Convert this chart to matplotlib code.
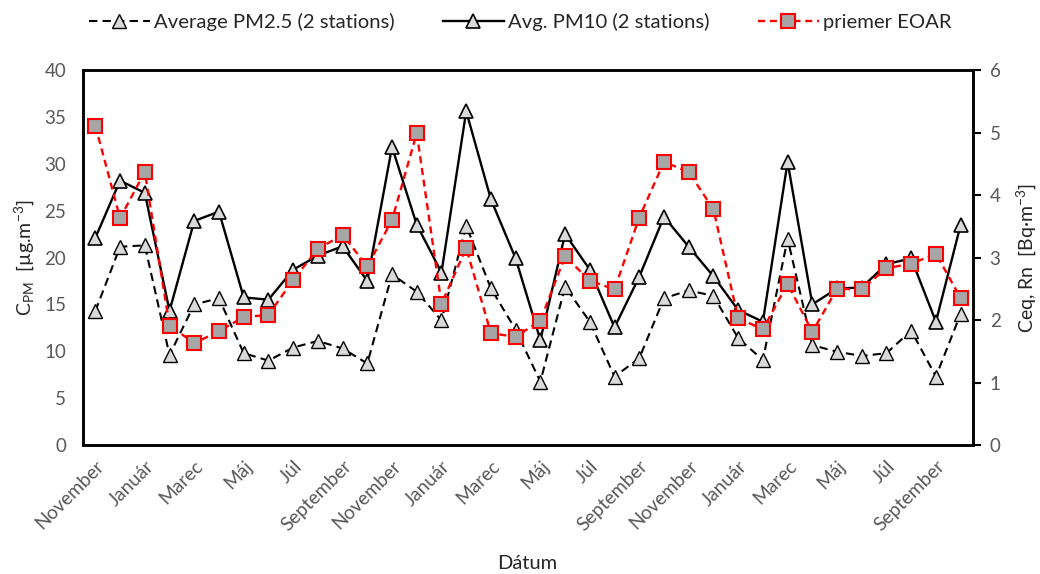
import matplotlib
matplotlib.use("Agg")
import matplotlib.pyplot as plt
from matplotlib.ticker import MultipleLocator

plt.rcParams['font.family'] = ['Lato', 'DejaVu Sans']
plt.rcParams['mathtext.fontset'] = 'custom'
plt.rcParams['mathtext.rm'] = 'Lato'
plt.rcParams['mathtext.it'] = 'Lato:italic'
plt.rcParams['mathtext.bf'] = 'Lato:bold'

# Monthly series, November through October over three seasons
months = ["November", "December", "Január", "Február", "Marec", "Apríl",
          "Máj", "Jún", "Júl", "August", "September", "Október"] * 3

pm25 = [14.3, 21.15, 21.3, 9.6, 15.0, 15.65, 9.8, 9.0, 10.4, 11.1, 10.3, 8.7,
        18.2, 16.35, 13.3, 23.4, 16.7, 12.3, 6.75, 16.9, 13.15, 7.3, 9.25, 15.65,
        16.5, 15.9, 11.4, 9.07, 22.0, 10.65, 9.95, 9.5, 9.8, 12.2, 7.3, 14.0]

pm10 = [22.1, 28.2, 26.9, 14.3, 23.9, 24.9, 15.75, 15.5, 18.7, 20.2, 21.2, 17.5,
        31.8, 23.5, 18.4, 35.6, 26.2, 19.9, 11.2, 22.5, 18.7, 12.55, 17.95, 24.35,
        21.15, 18.0, 14.4, 13.15, 30.2, 15.0, 16.7, 16.8, 19.3, 19.9, 13.15, 23.5]

eoar = [5.11, 3.63, 4.37, 1.91, 1.63, 1.82, 2.05, 2.08, 2.64, 3.14, 3.36, 2.86,
        3.60, 4.99, 2.26, 3.15, 1.79, 1.73, 1.99, 3.02, 2.63, 2.49, 3.64, 4.53,
        4.37, 3.77, 2.03, 1.85, 2.58, 1.81, 2.50, 2.49, 2.83, 2.90, 3.06, 2.35]

label_color = "#595959"
x = list(range(len(months)))

fig = plt.figure(figsize=(10.4, 5.74), dpi=100)
ax = fig.add_axes([0.0798, 0.2247, 0.8558, 0.6533])
ax2 = ax.twinx()

l1, = ax.plot(x, pm25, color="black", lw=1.5, ls=(0, (4, 2.5)), marker="^",
              ms=10.5, mfc="#D9D9D9", mec="black", mew=1.0,
              label="Average PM2.5 (2 stations)")
l2, = ax.plot(x, pm10, color="black", lw=1.7, ls="-", marker="^",
              ms=10.5, mfc="#D9D9D9", mec="black", mew=1.2,
              label="Avg. PM10 (2 stations)")
l3, = ax2.plot(x, eoar, color="#FF0000", lw=1.7, ls=(0, (3, 2)), marker="s",
               ms=9.5, mfc="#A6A6A6", mec="#FF0000", mew=1.5,
               label="priemer EOAR")

ax.set_xlim(-0.5, len(months) - 0.5)
ax.set_ylim(0, 40)
ax2.set_ylim(0, 6)
ax.yaxis.set_major_locator(MultipleLocator(5))
ax2.yaxis.set_major_locator(MultipleLocator(1))

ax.set_xticks(x[::2])
ax.set_xticklabels(months[::2], rotation=45, ha="right", va="top",
                   rotation_mode="anchor")
ax.tick_params(axis="x", length=0, pad=9, labelsize=13.8, labelcolor=label_color)
ax.tick_params(axis="y", length=0, pad=12, labelsize=13.5, labelcolor=label_color)
ax2.tick_params(axis="y", direction="out", length=6, width=1.5, color="black",
                pad=6, labelsize=13.5, labelcolor=label_color)

for a in (ax, ax2):
    for s in a.spines.values():
        s.set_linewidth(1.8)
        s.set_color("black")

ax.set_ylabel(r"C$_{\mathrm{PM}}$  [µg.m$^{\mathrm{-3}}$]", fontsize=14,
              color="#262626", labelpad=6)
ax2.set_ylabel(r"Ceq, Rn  [Bq·m$^{\mathrm{-3}}$]", fontsize=14,
               color="#262626", rotation=90, labelpad=10)
fig.text(0.507, 0.018, "Dátum", fontsize=14.5, color="#262626",
         ha="center", va="center")

fig.legend(handles=[l1, l2, l3], loc="center", bbox_to_anchor=(0.5, 0.962),
           ncol=3, frameon=False, fontsize=14.6, handlelength=3.0,
           columnspacing=2.4, handletextpad=0.2, labelcolor="#262626")

fig.savefig("out.png", dpi=100)
